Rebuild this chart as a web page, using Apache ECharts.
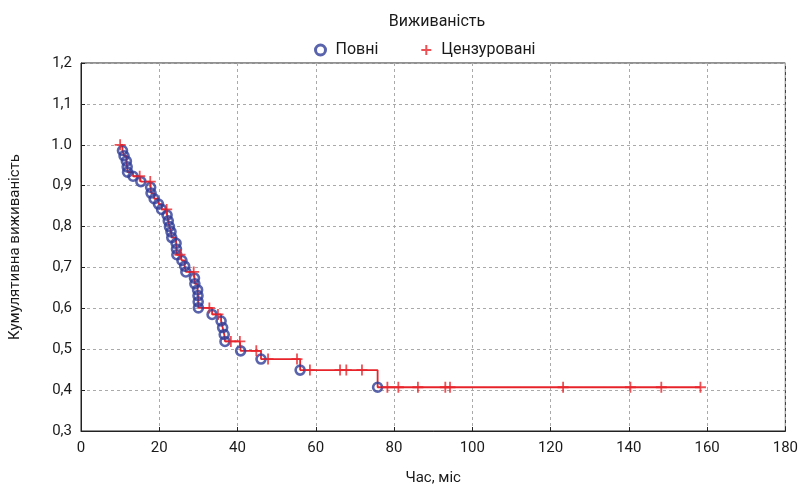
<!DOCTYPE html>
<html>
<head>
<meta charset="utf-8">
<script src="https://cdn.jsdelivr.net/npm/echarts@6/dist/echarts.min.js"></script>
<style>
  html, body { margin: 0; padding: 0; background: #fff; }
  #chart { width: 801px; height: 491px; }
</style>
</head>
<body>
<div id="chart"></div>
<script>
// complete events (circles): time in months, cumulative survival after the event
const eventTimes = [10.6, 11.0, 11.6, 11.8, 11.9, 13.3, 15.3, 17.8, 17.9, 18.7, 19.8, 20.6,
  22.0, 22.3, 22.6, 23.0, 23.2, 24.3, 24.4, 24.5, 25.8, 26.5, 26.8,
  29.0, 29.1, 29.8, 29.9, 29.95, 30.0, 33.5, 35.8, 36.2, 36.6, 36.8,
  40.8, 46.0, 56.0, 75.8];
const eventSurv = [0.986, 0.973, 0.960, 0.946, 0.933, 0.923, 0.910, 0.896, 0.882, 0.868, 0.855, 0.842,
  0.828, 0.814, 0.800, 0.787, 0.773, 0.759, 0.745, 0.731, 0.717, 0.703, 0.689,
  0.674, 0.660, 0.645, 0.631, 0.616, 0.601, 0.585, 0.569, 0.553, 0.536, 0.519,
  0.496, 0.476, 0.449, 0.407];

// censored observations (+)
const censorTimes = [10.0, 15.0, 17.7, 21.9, 25.3, 28.8, 32.8, 35.0, 38.3, 40.6, 44.8, 47.8, 55.2,
  58.5, 66.2, 67.8, 71.8, 78.3, 81.1, 86.1, 93.1, 94.3, 123.2, 140.4, 148.3, 158.3];
const censorSurv = [1.0, 0.923, 0.910, 0.842, 0.731, 0.689, 0.601, 0.585, 0.519, 0.519, 0.496, 0.476, 0.476,
  0.449, 0.449, 0.449, 0.449, 0.407, 0.407, 0.407, 0.407, 0.407, 0.407, 0.407, 0.407, 0.407];

const yTickLabels = ['0,3', '0,4', '0,5', '0,6', '0,7', '0,8', '0,9', '1.0', '1,1', '1,2'];

const blue = '#2f3d97';
const red = '#e8242b';
const textColor = '#1a1a1a';
const plusIcon = 'path://M0,5 L10,5 M5,0 L5,10';
const axisFont = "'Liberation Sans Narrow', 'Roboto', sans-serif";

const events = eventTimes.map((t, i) => [t, eventSurv[i]]);
const censored = censorTimes.map((t, i) => [t, censorSurv[i]]);
// step curve goes through every observation in time order
const curve = events.concat(censored).sort((a, b) => a[0] - b[0] || b[1] - a[1]);

const chart = echarts.init(document.getElementById('chart'));

chart.setOption({
  animation: false,
  title: {
    text: 'Виживаність',
    left: 432,
    top: 9,
    textAlign: 'center',
    textStyle: { fontFamily: 'Roboto', fontSize: 16, fontWeight: 'normal', color: textColor },
  },
  legend: {
    data: [
      { name: 'Повні', icon: 'circle', itemStyle: { color: 'rgba(0,0,0,0)', borderColor: blue, borderWidth: 3 } },
      { name: 'Цензуровані', icon: plusIcon, itemStyle: { borderWidth: 2 } },
    ],
    left: 309,
    top: 37,
    itemWidth: 20,
    itemHeight: 10,
    itemGap: 42,
    textStyle: { fontFamily: 'Roboto', fontSize: 16, color: textColor },
  },
  grid: {
    left: 80,
    right: 14,
    top: 63,
    bottom: 57,
    show: true,
    borderColor: '#222',
    borderWidth: 1,
  },
  xAxis: {
    type: 'value',
    min: 0,
    max: 180,
    interval: 20,
    name: 'Час, міс',
    nameLocation: 'middle',
    nameGap: 40,
    nameTextStyle: { fontFamily: axisFont, fontSize: 15, color: textColor },
    axisLine: { lineStyle: { color: '#222' } },
    axisTick: { inside: true, length: 4, lineStyle: { color: '#222' } },
    axisLabel: { fontFamily: axisFont, fontSize: 15, color: textColor, margin: 10 },
    splitLine: { show: true, lineStyle: { color: '#aaa', type: [3, 3] } },
  },
  yAxis: {
    type: 'value',
    min: 0.3,
    max: 1.2,
    interval: 0.1,
    name: 'Кумулятивна виживаність',
    nameLocation: 'middle',
    nameGap: 58,
    nameTextStyle: { fontFamily: axisFont, fontSize: 15, color: textColor },
    axisLine: { lineStyle: { color: '#222' } },
    axisTick: { inside: true, length: 4, lineStyle: { color: '#222' } },
    axisLabel: {
      fontFamily: axisFont,
      fontSize: 15,
      color: textColor,
      margin: 9,
      formatter: (v) => yTickLabels[Math.round((v - 0.3) * 10)],
    },
    splitLine: { show: true, lineStyle: { color: '#aaa', type: [3, 3] } },
  },
  series: [
    {
      name: 'curve',
      type: 'line',
      step: 'end',
      data: curve,
      showSymbol: false,
      lineStyle: { color: red, width: 1.8 },
      z: 1,
    },
    {
      name: 'Повні',
      type: 'scatter',
      data: events,
      symbol: 'circle',
      symbolSize: 9,
      itemStyle: { color: 'rgba(0,0,0,0)', borderColor: blue, borderWidth: 2.6 },
      z: 3,
    },
    {
      name: 'Цензуровані',
      type: 'scatter',
      data: censored,
      symbol: plusIcon,
      symbolSize: 11,
      itemStyle: { color: red, borderColor: red, borderWidth: 1.8 },
      z: 4,
    },
  ],
});
</script>
</body>
</html>
